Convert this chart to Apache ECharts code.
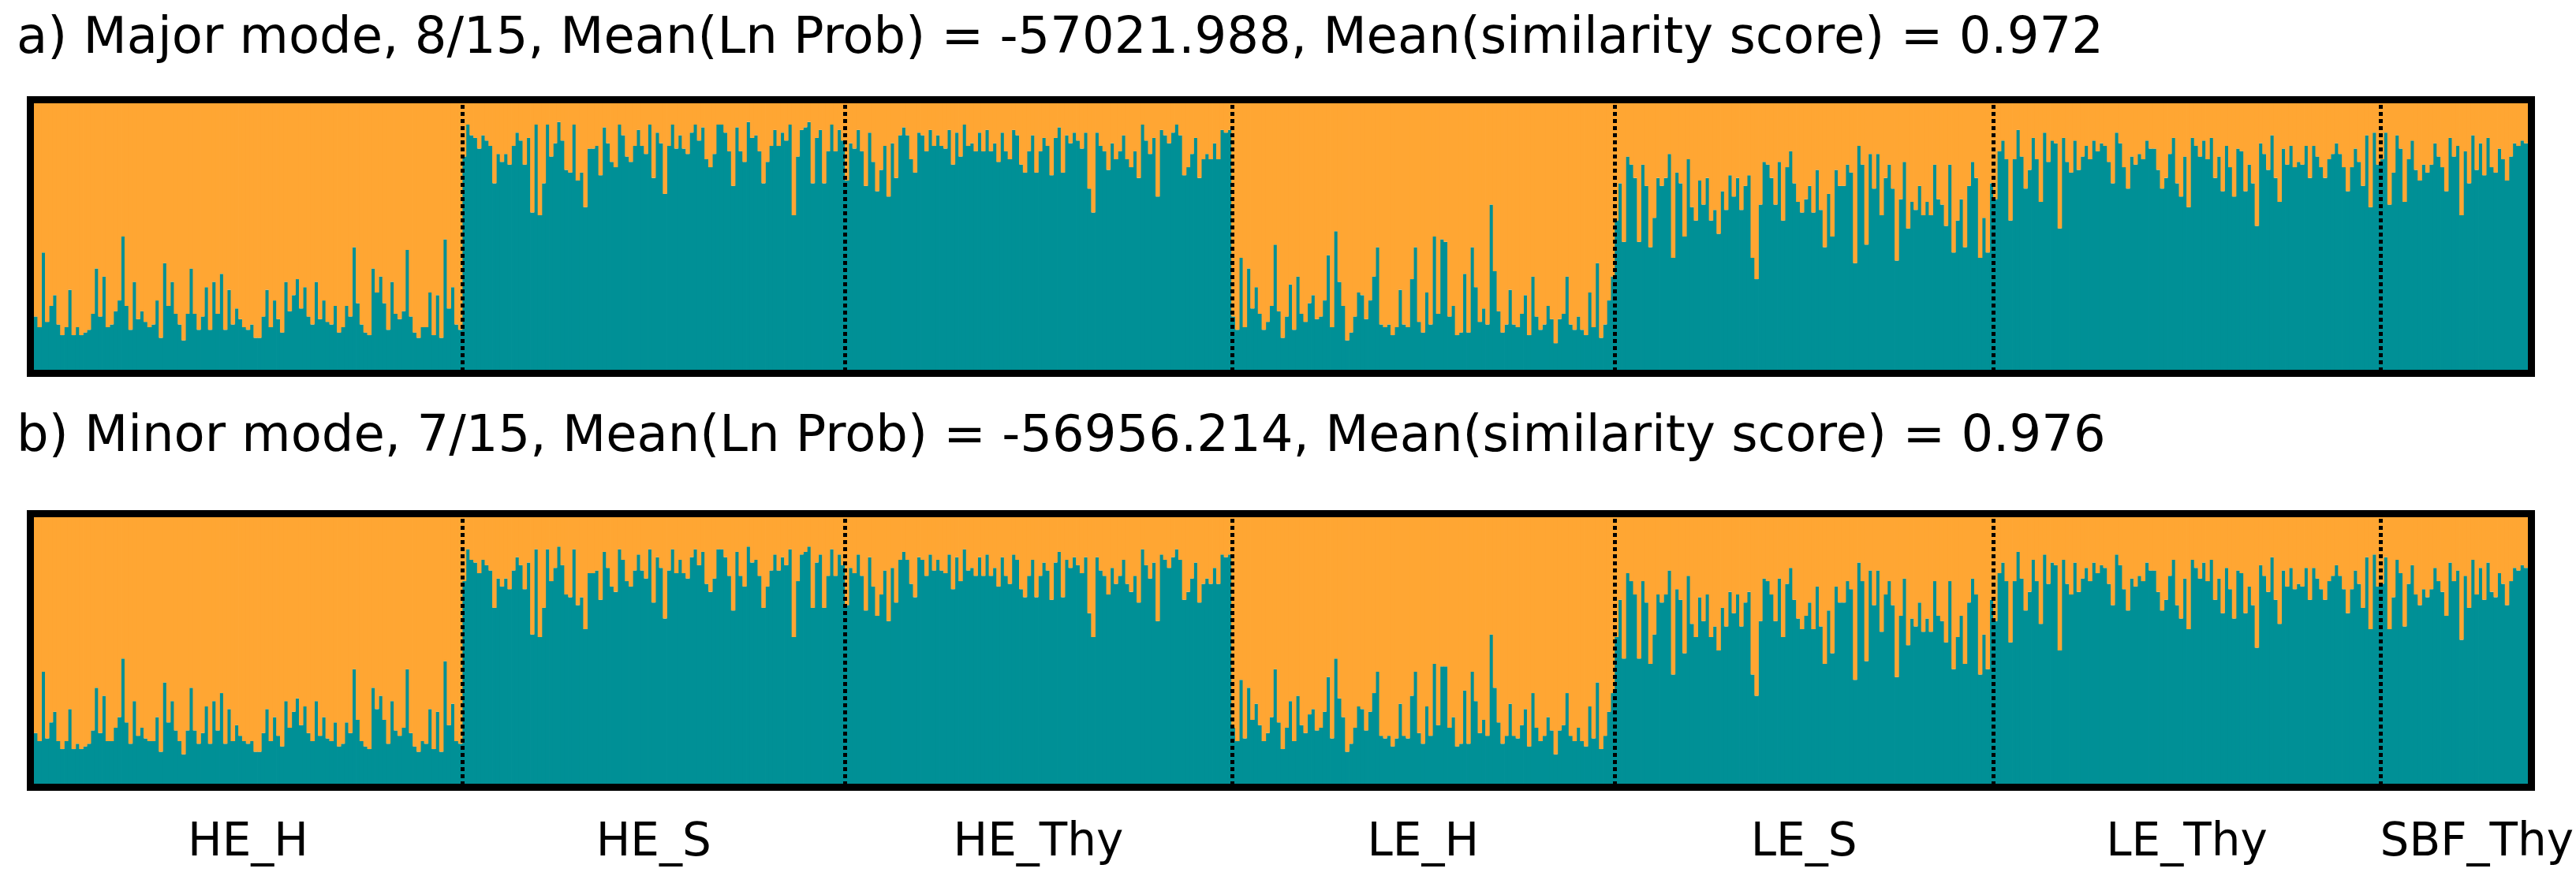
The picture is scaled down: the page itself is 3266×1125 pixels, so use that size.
<!DOCTYPE html>
<html>
<head>
<meta charset="utf-8">
<title>STRUCTURE K=2</title>
<script src="https://cdn.jsdelivr.net/npm/echarts@6.0.0/dist/echarts.min.js"></script>
<style>
	html, body { margin: 0; padding: 0; background: #fff; }
	#main { width: 3266px; height: 1125px; }
</style>
</head>
<body>
<div id="main"></div>
<script>
// population names (x labels)
var popNames = ['HE_H', 'HE_S', 'HE_Thy', 'LE_H', 'LE_S', 'LE_Thy', 'SBF_Thy'];

var titleMajor = 'a) Major mode, 8/15, Mean(Ln Prob) = -57021.988, Mean(similarity score) = 0.972';
var titleMinor = 'b) Minor mode, 7/15, Mean(Ln Prob) = -56956.214, Mean(similarity score) = 0.976';

// membership of each individual in cluster 1 (teal), in %, major mode
var majorHE_H = [20,16,44,18,24,28,17,13,16,30,13,16,13,14,15,21,38,20,35,16,
	17,22,26,50,24,15,33,19,22,18,16,17,26,12,40,24,33,21,17,11,
	21,38,21,15,20,31,15,33,21,36,15,30,17,23,19,16,15,17,12,12,
	20,30,16,26,19,14,33,22,28,34,23,31,20,17,33,19,26,18,17,24,
	14,16,24,20,46,25,17,14,13,38,29,35,25,15,33,21,19,22,45,20,
	14,12,16,16,29,13,28,12,49,23,31,17,15];
var majorHE_S = [80,92,88,87,83,88,86,84,70,81,78,81,77,84,89,86,77,87,59,92,
	58,70,92,80,85,93,86,75,74,92,71,74,61,83,83,84,73,91,85,78,
	76,92,88,80,78,84,90,84,81,92,72,89,85,66,84,92,83,88,83,81,
	89,92,86,91,79,76,81,92,92,89,82,69,91,82,78,93,87,88,82,70,
	78,84,90,84,89,86,92,58,80,90,91,93,70,87,90,70,82,92,82,90,
	86];
var majorHE_Thy = [71,85,83,90,82,69,89,78,67,75,84,65,85,72,88,91,88,79,74,89,
	88,82,90,84,88,84,83,90,77,89,80,92,84,85,82,89,82,90,82,85,
	78,89,82,79,90,88,77,74,82,88,74,82,87,84,73,87,91,74,88,85,
	89,86,83,89,68,59,89,84,82,75,85,79,82,88,79,76,82,72,92,86,
	81,87,65,90,88,85,89,92,88,73,76,81,87,72,79,81,79,85,79,90,
	89,90];
var majorLE_H = [20,15,42,16,38,23,31,21,15,18,24,47,22,12,20,32,15,35,21,18,
	25,28,19,20,26,43,16,52,33,24,11,14,20,29,28,19,26,35,46,17,
	16,17,13,16,30,17,16,34,46,18,14,29,17,50,21,49,48,20,24,13,
	14,36,14,46,31,18,23,17,62,37,22,14,17,30,17,16,21,28,13,35,
	20,15,17,24,19,10,19,21,35,17,15,20,15,13,29,16,40,12,17,26,
	35];
var majorLE_S = [56,70,48,80,77,72,48,77,69,46,57,72,69,72,81,42,74,70,50,79,
	61,56,71,62,72,56,60,51,67,60,73,65,72,60,69,73,42,34,62,78,
	77,72,62,78,56,76,82,70,63,59,64,69,59,75,60,46,66,50,75,69,
	69,77,74,40,84,77,47,81,68,81,58,72,77,68,41,64,78,53,63,60,
	69,58,63,58,77,64,62,54,77,44,56,64,46,69,78,72,42,57,44,70];
var majorLE_Thy = [64,82,86,79,56,79,90,80,68,75,87,79,63,89,78,86,85,53,87,78,
	74,86,75,80,84,79,86,82,85,84,78,70,89,85,76,68,80,77,81,79,
	86,83,83,75,68,72,81,87,70,65,80,61,87,84,80,86,79,87,72,80,
	67,84,76,65,83,82,67,77,70,54,85,81,75,88,72,63,83,77,84,76,
	78,77,84,72,84,80,76,72,79,81,85,81,76,67,76,83,78,69,88,61,
	89,77];
var majorSBF_Thy = [79,89,62,74,88,83,63,79,86,75,71,77,74,77,85,80,76,67,87,80,
	84,58,82,70,88,75,85,73,87,76,74,83,79,71,80,85,84,86,85];

// same individuals, minor mode
var minorHE_H = [19,16,42,17,23,27,16,13,16,28,13,15,13,14,15,20,36,19,33,16,
	16,21,25,47,23,15,31,18,21,17,16,16,25,12,38,23,31,20,16,11,
	20,36,20,15,19,29,15,31,20,34,15,28,16,22,18,16,15,16,12,12,
	19,28,16,25,18,14,31,21,27,32,22,29,19,16,31,18,25,17,16,23,
	14,15,23,19,43,24,16,14,13,36,28,33,24,15,31,20,18,21,43,19,
	14,12,16,15,28,13,27,12,46,22,30,16,15];
var minorHE_S = [76,88,84,83,79,84,82,80,66,77,74,77,73,80,85,82,73,83,56,88,
	55,66,88,76,81,89,82,71,70,88,67,70,58,79,79,80,69,87,81,74,
	72,88,84,76,74,80,86,80,77,88,68,85,81,62,80,88,79,84,79,77,
	85,88,82,87,75,72,77,88,88,85,78,65,87,78,74,89,83,84,78,66,
	74,80,86,80,85,82,88,55,76,86,87,89,66,83,86,66,78,88,78,86,
	82];
var minorHE_Thy = [67,81,79,86,78,65,85,74,63,71,80,61,81,68,84,87,84,75,70,85,
	84,78,86,80,84,80,79,86,73,85,76,88,80,81,78,85,78,86,78,81,
	74,85,78,75,86,84,73,70,78,84,70,78,83,80,69,83,87,70,84,81,
	85,82,79,85,64,55,85,80,78,71,81,75,78,84,75,72,78,68,88,82,
	77,83,61,86,84,81,85,88,84,69,72,77,83,68,75,77,75,81,75,86,
	85,86];
var minorLE_H = [21,16,39,17,36,24,30,22,16,19,25,43,23,13,21,31,16,33,22,19,
	26,28,20,21,27,40,17,47,32,25,12,15,21,29,28,20,27,34,42,18,
	17,18,14,17,30,18,17,33,42,19,15,29,18,45,22,44,44,21,25,14,
	15,35,15,42,31,19,24,18,56,36,23,15,18,30,18,17,22,28,14,34,
	21,16,18,25,20,11,20,22,34,18,16,21,16,14,29,17,38,13,18,27,
	34];
var minorLE_S = [55,69,47,79,76,71,47,76,68,45,56,71,68,71,80,41,73,69,49,78,
	60,55,70,61,71,55,59,50,66,59,72,64,71,59,68,72,41,33,61,77,
	76,71,61,77,55,75,81,69,62,58,63,68,58,74,59,45,65,49,74,68,
	68,76,73,39,83,76,46,80,67,80,57,71,76,67,40,63,77,52,62,59,
	68,57,62,57,76,63,61,53,76,43,55,63,45,68,77,71,41,56,43,69];
var minorLE_Thy = [61,79,83,76,53,76,87,77,65,72,84,76,60,86,75,83,82,50,84,75,
	71,83,72,77,81,76,83,79,82,81,75,67,86,82,73,65,77,74,78,76,
	83,80,80,72,65,69,78,84,67,62,77,58,84,81,77,83,76,84,69,77,
	64,81,73,62,80,79,64,74,67,51,82,78,72,85,69,60,80,74,81,73,
	75,74,81,69,81,77,73,69,76,78,82,78,73,64,73,80,75,66,85,58,
	86,74];
var minorSBF_Thy = [75,85,58,70,84,79,59,75,82,71,67,73,70,73,81,76,72,63,83,76,
	80,54,78,66,84,71,81,69,83,72,70,79,75,67,76,81,80,82,81];

var majorPops = [majorHE_H, majorHE_S, majorHE_Thy, majorLE_H, majorLE_S, majorLE_Thy, majorSBF_Thy];
var minorPops = [minorHE_H, minorHE_S, minorHE_Thy, minorLE_H, minorLE_S, minorLE_Thy, minorSBF_Thy];

var TEAL = '#009096';
var ORANGE = '#FFA633';
var FONT = '"DejaVu Sans", Verdana, sans-serif';
var PLOT_W = 3162;

function joinPops(pops) {
	var out = [];
	pops.forEach(function(p) { out = out.concat(p); });
	return out;
}

// index where each population starts (plus total at the end)
function popStarts(pops) {
	var s = [0], n = 0;
	pops.forEach(function(p) { n += p.length; s.push(n); });
	return s;
}

var majorAll = joinPops(majorPops);
var minorAll = joinPops(minorPops);
var starts = popStarts(majorPops);
var total = starts[starts.length - 1];
var categories = majorAll.map(function(v, i) { return i + 1; });
// a little wider than the band so neighbouring bars leave no seams
var barW = PLOT_W / total + 0.8;

// dotted lines between populations
function dividerSeries(gridIdx) {
	var data = starts.slice(1, starts.length - 1).map(function(b) { return [b, 0]; });
	return {
		type: 'custom',
		xAxisIndex: gridIdx + 2,
		yAxisIndex: gridIdx,
		silent: true,
		z: 5,
		data: data,
		renderItem: function(params, api) {
			var p0 = api.coord([api.value(0), 0]);
			var p1 = api.coord([api.value(0), 100]);
			var x = Math.round(p0[0]) + 0.5;
			return {
				type: 'line',
				shape: { x1: x, y1: p1[1] + 2, x2: x, y2: p0[1] },
				style: { stroke: '#000', lineWidth: 5, lineDash: [5, 4] }
			};
		}
	};
}

function barSeries(gridIdx, values) {
	return [{
		type: 'bar',
		xAxisIndex: gridIdx,
		yAxisIndex: gridIdx,
		stack: 'q' + gridIdx,
		barWidth: barW,
		silent: true,
		itemStyle: { color: TEAL },
		data: values
	}, {
		type: 'bar',
		xAxisIndex: gridIdx,
		yAxisIndex: gridIdx,
		stack: 'q' + gridIdx,
		barWidth: barW,
		silent: true,
		itemStyle: { color: ORANGE },
		data: values.map(function(v) { return 100 - v; })
	}];
}

var myChart = echarts.init(document.getElementById('main'), null, { renderer: 'canvas' });

var option = {
	animation: false,
	backgroundColor: '#fff',
	grid: [
		{ left: 43, top: 131, width: PLOT_W, height: 338 },
		{ left: 43, top: 656, width: PLOT_W, height: 338 }
	],
	xAxis: [
		{ type: 'category', gridIndex: 0, data: categories, show: false },
		{ type: 'category', gridIndex: 1, data: categories, show: false },
		{ type: 'value', gridIndex: 0, min: 0, max: total, show: false },
		{ type: 'value', gridIndex: 1, min: 0, max: total, show: false }
	],
	yAxis: [
		{ type: 'value', gridIndex: 0, min: 0, max: 100, show: false },
		{ type: 'value', gridIndex: 1, min: 0, max: 100, show: false }
	],
	series: barSeries(0, majorAll).concat(barSeries(1, minorAll), [dividerSeries(0), dividerSeries(1)])
};
myChart.setOption(option);

// measure label width so a label never starts left of its population
var ctx = document.createElement('canvas').getContext('2d');
var labelFont = '58px ' + FONT;
ctx.font = labelFont;

// frames, titles and population labels
var graphics = [
	{ type: 'rect', z: 100, silent: true, shape: { x: 38.5, y: 126.5, width: 3171, height: 347 }, style: { fill: null, stroke: '#000', lineWidth: 9 } },
	{ type: 'rect', z: 100, silent: true, shape: { x: 38.5, y: 651.5, width: 3171, height: 347 }, style: { fill: null, stroke: '#000', lineWidth: 9 } },
	{ type: 'text', z: 100, silent: true, style: { x: 21, y: 50, text: titleMajor, fill: '#000', font: '64px ' + FONT, align: 'left', verticalAlign: 'middle', textAlign: 'left', textVerticalAlign: 'middle' } },
	{ type: 'text', z: 100, silent: true, style: { x: 21, y: 555, text: titleMinor, fill: '#000', font: '64px ' + FONT, align: 'left', verticalAlign: 'middle', textAlign: 'left', textVerticalAlign: 'middle' } }
];
popNames.forEach(function(name, i) {
	var mid = myChart.convertToPixel({ xAxisIndex: 3 }, (starts[i] + starts[i + 1]) / 2);
	var left = myChart.convertToPixel({ xAxisIndex: 3 }, starts[i]);
	var half = ctx.measureText(name).width / 2;
	var px = Math.max(mid, left + half);
	graphics.push({
		type: 'text', z: 100, silent: true,
		style: { x: px, y: 1070, text: name, fill: '#000', font: labelFont, align: 'center', verticalAlign: 'middle', textAlign: 'center', textVerticalAlign: 'middle' }
	});
});
myChart.setOption({ graphic: graphics });
</script>
</body>
</html>
